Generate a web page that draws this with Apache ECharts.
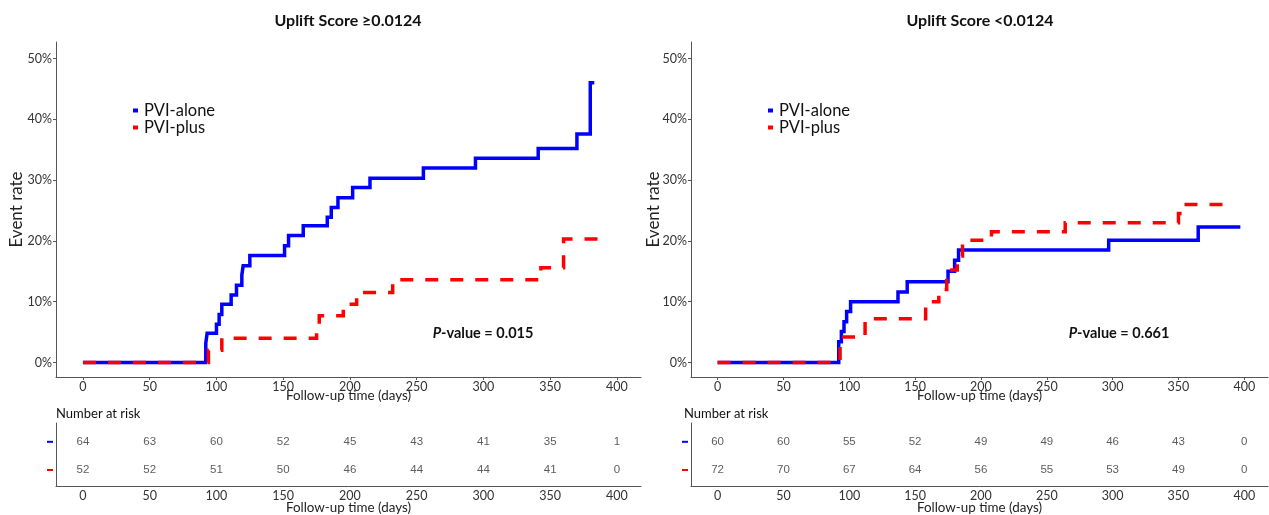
<!DOCTYPE html>
<html>
<head>
<meta charset="utf-8">
<script src="https://cdn.jsdelivr.net/npm/echarts@6/dist/echarts.min.js"></script>
<style>
  html, body { margin: 0; padding: 0; background: #fff; }
  #chart { width: 1269px; height: 515px; }
</style>
</head>
<body>
<div id="chart"></div>
<script>
// tick labels
const dayTicks = [0, 50, 100, 150, 200, 250, 300, 350, 400];
const rateTicks = [0, 10, 20, 30, 40, 50];

// Uplift Score >= 0.0124 (event rate in %)
const hiAloneTime = [0, 92, 93, 100, 102, 104, 111, 115, 119, 120, 125, 151, 154, 165, 183, 186, 191, 202, 215, 255, 294, 341, 370, 380, 383];
const hiAloneRate = [0, 3.2, 4.8, 6.3, 7.9, 9.6, 11.1, 12.7, 14.4, 15.9, 17.6, 19.2, 20.9, 22.5, 23.9, 25.5, 27.1, 28.8, 30.3, 32.0, 33.6, 35.2, 37.6, 46.0, 46.0];
const hiPlusTime = [0, 94, 104, 175, 177, 195, 205, 232, 343, 360, 392];
const hiPlusRate = [0, 2.0, 4.0, 5.8, 7.7, 9.6, 11.5, 13.6, 15.6, 20.3, 20.3];

// Uplift Score < 0.0124
const loAloneTime = [0, 92, 94, 96, 98, 101, 137, 144, 175, 180, 183, 297, 365, 397];
const loAloneRate = [0, 3.4, 5.1, 6.7, 8.4, 10.0, 11.6, 13.3, 15.0, 16.8, 18.5, 20.1, 22.3, 22.3];
const loPlusTime = [0, 93, 112, 158, 168, 174, 182, 186, 208, 264, 350, 354, 391];
const loPlusRate = [0, 4.2, 7.2, 10.0, 12.0, 15.2, 17.5, 20.1, 21.5, 23.0, 24.5, 26.0, 26.0];

// number at risk
const hiAloneRisk = [64, 63, 60, 52, 45, 43, 41, 35, 1];
const hiPlusRisk = [52, 52, 51, 50, 46, 44, 44, 41, 0];
const loAloneRisk = [60, 60, 55, 52, 49, 49, 46, 43, 0];
const loPlusRisk = [72, 70, 67, 64, 56, 55, 53, 49, 0];

const BLUE = '#0000FF';
const RED = '#FF0000';
const CAL = 'Lato';
const AXC = '#555';

const pairs = (t, v) => t.map((d, i) => [d, v[i]]);
const riskRow = (arr, row) => arr.map((n, i) => [dayTicks[i], row, n]);

function xAx(grid, nameGap) {
  return {
    type: 'value', gridIndex: grid, min: -20.2, max: 418,
    axisLine: { onZero: false, lineStyle: { color: AXC, width: 1 } },
    axisTick: { show: grid < 2, length: 3, customValues: dayTicks, lineStyle: { color: AXC } },
    axisLabel: { customValues: dayTicks, margin: 3, fontFamily: CAL, fontSize: 12.5, color: '#333' },
    splitLine: { show: false },
    name: 'Follow-up time (days)',
    nameLocation: 'middle', nameGap: nameGap, nameMoveOverlap: false,
    nameTextStyle: { fontFamily: CAL, fontSize: 13.4, color: '#222' }
  };
}

function yMain(grid, gap) {
  return {
    type: 'value', gridIndex: grid, min: -2.38, max: 52.71,
    axisLine: { show: true, onZero: false, lineStyle: { color: AXC, width: 1 } },
    axisTick: { show: true, length: 3, customValues: rateTicks, lineStyle: { color: AXC } },
    axisLabel: { customValues: rateTicks, margin: 4, fontFamily: CAL, fontSize: 12.5, color: '#333', formatter: v => v + '%' },
    splitLine: { show: false },
    name: 'Event rate', nameLocation: 'middle', nameGap: gap, nameRotate: 90, nameMoveOverlap: false,
    nameTextStyle: { fontFamily: CAL, fontSize: 17, color: '#222' }
  };
}

function yRisk(grid) {
  return {
    type: 'value', gridIndex: grid, min: -0.567, max: 1.667,
    axisLine: { show: true, onZero: false, lineStyle: { color: AXC, width: 1 } },
    axisTick: { show: false },
    axisLabel: {
      customValues: [0, 1], margin: 3,
      formatter: v => v === 1 ? '{b|}' : '{r|}',
      rich: {
        b: { backgroundColor: BLUE, width: 6, height: 2 },
        r: { backgroundColor: RED, width: 6, height: 2 }
      }
    },
    splitLine: { show: false }
  };
}

function stepLine(name, data, color, dashed, xi) {
  return {
    name: name, type: 'line', step: 'end', xAxisIndex: xi, yAxisIndex: xi,
    data: data, showSymbol: false, symbol: 'none', animation: false,
    lineStyle: { color: color, width: 3.5, type: dashed ? [13, 12] : 'solid', join: 'miter' },
    itemStyle: { color: color }
  };
}

function riskSeries(data, xi) {
  return {
    type: 'scatter', xAxisIndex: xi, yAxisIndex: xi, data: data,
    symbolSize: 1, itemStyle: { color: 'rgba(0,0,0,0)' }, animation: false, silent: true,
    label: {
      show: true, position: 'inside', formatter: p => String(p.value[2]),
      fontFamily: 'Liberation Sans', fontSize: 11.5, color: '#333'
    },
    labelLayout: { hideOverlap: false }
  };
}

function txt(x, y, text, size, weight, align) {
  return {
    type: 'text', x: x, y: y,
    style: {
      text: text, fontFamily: CAL, fontSize: size, fontWeight: weight || 'normal',
      fill: '#111', align: align || 'center', verticalAlign: 'middle'
    }
  };
}

function pValue(x, y, val) {
  return {
    type: 'text', x: x, y: y,
    style: {
      text: '{i|P}{n|-value = ' + val + '}',
      align: 'center', verticalAlign: 'middle',
      rich: {
        i: { fontFamily: CAL, fontSize: 14.5, fontWeight: 'bold', fontStyle: 'italic', fill: '#111' },
        n: { fontFamily: CAL, fontSize: 14.5, fontWeight: 'bold', fill: '#111' }
      }
    }
  };
}

const legendBase = {
  orient: 'vertical', icon: 'rect', itemWidth: 5, itemHeight: 4, itemGap: 0, padding: 0,
  textStyle: { fontFamily: CAL, fontSize: 16.5, color: '#111', lineHeight: 15.5, padding: [0, 0, 0, 1] },
  selectedMode: false,
  data: ['PVI-alone', 'PVI-plus']
};

const chart = echarts.init(document.getElementById('chart'), null, { renderer: 'canvas' });
chart.setOption({
  backgroundColor: '#fff',
  animation: false,
  grid: [
    { left: 56, top: 42, width: 585, height: 335 },
    { left: 691, top: 42, width: 577, height: 335 },
    { left: 56, top: 423, width: 585, height: 67 },
    { left: 691, top: 423, width: 577, height: 67 }
  ],
  xAxis: [xAx(0, 12), xAx(1, 12), xAx(2, 15), xAx(3, 15)],
  yAxis: [yMain(0, 31), yMain(1, 29), yRisk(2), yRisk(3)],
  legend: [
    Object.assign({ left: 133, top: 102 }, legendBase),
    Object.assign({ left: 768, top: 102 }, legendBase)
  ],
  series: [
    stepLine('PVI-alone', pairs(hiAloneTime, hiAloneRate), BLUE, false, 0),
    stepLine('PVI-plus', pairs(hiPlusTime, hiPlusRate), RED, true, 0),
    stepLine('PVI-alone', pairs(loAloneTime, loAloneRate), BLUE, false, 1),
    stepLine('PVI-plus', pairs(loPlusTime, loPlusRate), RED, true, 1),
    riskSeries(riskRow(hiAloneRisk, 1).concat(riskRow(hiPlusRisk, 0)), 2),
    riskSeries(riskRow(loAloneRisk, 1).concat(riskRow(loPlusRisk, 0)), 3)
  ],
  graphic: [
    txt(348, 21, 'Uplift Score ≥0.0124', 16, 'bold'),
    txt(980, 21, 'Uplift Score <0.0124', 16, 'bold'),
    pValue(483, 333, '0.015'),
    pValue(1119, 333, '0.661'),
    txt(56, 414, 'Number at risk', 13, 'normal', 'left'),
    txt(684, 414, 'Number at risk', 13, 'normal', 'left')
  ]
});
</script>
</body>
</html>
